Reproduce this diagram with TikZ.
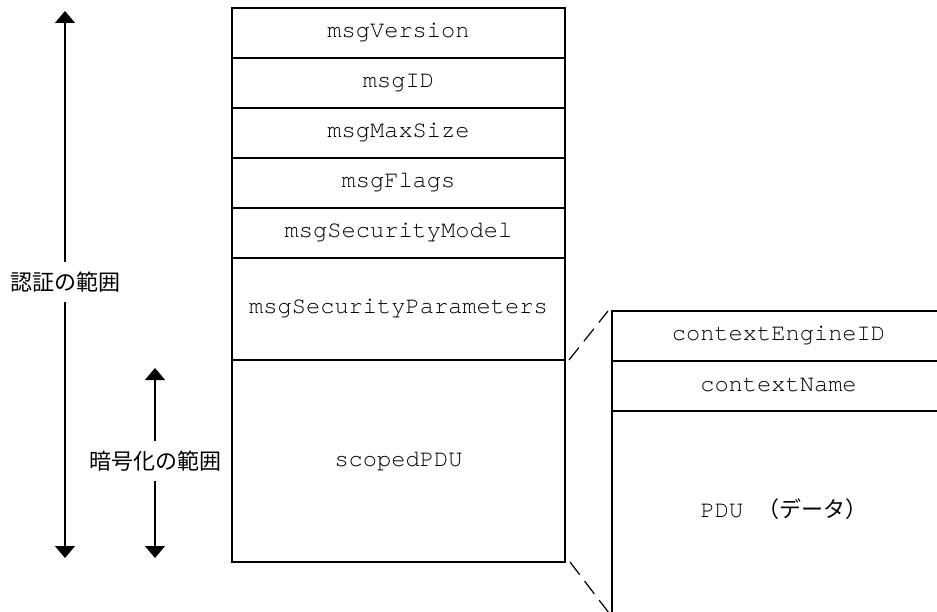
\documentclass[tikz,border=0pt]{standalone}
\usepackage{fontspec}
\newfontfamily\cour{texgyrecursor-regular.otf}
\newfontfamily\cjk{Noto Sans CJK JP}
\usetikzlibrary{arrows.meta}
\begin{document}
\begin{tikzpicture}[x=1pt,y=-1pt,
  rule/.style={line width=1.2pt},
  cell/.style={rule, draw, outer sep=0pt, inner sep=0pt,
    minimum width=333pt, minimum height=50pt,
    font=\cour\fontsize{23.7}{24}\selectfont,
    text height=13.5pt, text depth=3.5pt},
  celltext/.style={inner sep=0pt, font=\cour\fontsize{23.7}{24}\selectfont,
    text height=13.5pt, text depth=3.5pt},
  rangelabel/.style={inner xsep=0pt, inner ysep=10pt,
    font=\cjk\fontsize{22}{22}\selectfont,
    text height=18.3pt, text depth=1.5pt},
  rangearrow/.style={rule, -{Triangle[width=20pt,length=12pt]}},
  dashline/.style={rule, dash pattern=on 16pt off 8pt}
]
\useasboundingbox (0,0) rectangle (937,612);

% message header fields
\node[cell] (ver)    at (398.5,33)  {msgVersion};
\node[cell] (id)     at (398.5,83)  {msgID};
\node[cell] (maxsz)  at (398.5,133) {msgMaxSize};
\node[cell] (flags)  at (398.5,183) {msgFlags};
\node[cell] (secmod) at (398.5,233) {msgSecurityModel};
\node[cell, minimum height=102pt] (params) at (398.5,309) {msgSecurityParameters};
\node[cell, minimum height=202pt] (scoped) at (398.5,461) {scopedPDU};

% expanded scopedPDU
\node[cell] (engine) at (778.5,336) {contextEngineID};
\node[cell] (name)   at (778.5,386) {contextName};
\node[celltext] (pdu) at (784,512) {PDU {\cjk\fontsize{22}{22}\selectfont （データ）}};
\draw[rule] (name.south west) -- ++(0,230);
\draw[rule] (name.south east) -- ++(0,230);

% expansion guides
\coordinate (pdufoot) at (612,617);
\draw[dashline] ([xshift=4pt]params.south east) -- ([xshift=-4pt]engine.north west);
\draw[dashline] ([xshift=5pt]scoped.south east) -- (pdufoot);

% authentication range
\coordinate (authtop) at (65,11);
\coordinate (authbot) at (65,558);
\node[rangelabel] (auth) at (65,282) {認証の範囲};
\draw[rangearrow] (auth.north) -- (authtop);
\draw[rangearrow] (auth.south) -- (authbot);

% encryption range
\coordinate (enctop) at (155,368);
\coordinate (encbot) at (155,558);
\node[rangelabel] (enc) at (155,461) {暗号化の範囲};
\draw[rangearrow] (enc.north) -- (enctop);
\draw[rangearrow] (enc.south) -- (encbot);
\end{tikzpicture}
\end{document}
